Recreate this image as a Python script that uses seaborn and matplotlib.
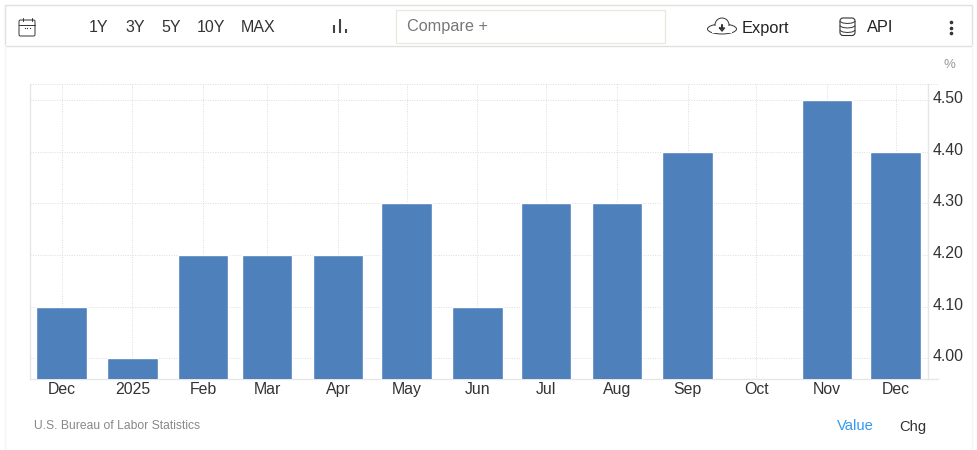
import numpy as np
import pandas as pd
import matplotlib
matplotlib.use("Agg")
import matplotlib.pyplot as plt
from matplotlib.patches import Rectangle, Ellipse, FancyBboxPatch
from matplotlib.transforms import ScaledTranslation
import seaborn as sns

months = ["2024-12-01", "2025-01-01", "2025-02-01", "2025-03-01", "2025-04-01", "2025-05-01", "2025-06-01",
          "2025-07-01", "2025-08-01", "2025-09-01", "2025-10-01", "2025-11-01", "2025-12-01"]
month_labels = ["Dec", "2025", "Feb", "Mar", "Apr", "May", "Jun", "Jul", "Aug", "Sep", "Oct", "Nov", "Dec"]
rate = [4.1, 4.0, 4.2, 4.2, 4.2, 4.3, 4.1, 4.3, 4.3, 4.4, np.nan, 4.5, 4.4]
y_ticks = [4.0, 4.1, 4.2, 4.3, 4.4, 4.5]

dates = pd.to_datetime(months)
df = pd.DataFrame({"day": (dates - dates[0]).days, "rate": rate})

sns.set_style("white")
plt.rcParams["font.family"] = ["Liberation Sans", "DejaVu Sans"]

W, H = 977, 450
fig = plt.figure(figsize=(W / 100, H / 100), dpi=100)
ax = fig.add_axes([30 / W, 1 - 379 / H, (928 - 30) / W, (379 - 83.5) / H])

sns.barplot(data=df, x="day", y="rate", native_scale=True, color="#4e80bc", saturation=1, width=0.79, ax=ax, zorder=3)

# px per day is 2.285, first bar centre sits at x=62
ax.set_xlim(-13.8, 379.2)
ax.set_ylim(3.9597, 4.5323)
ax.set_xlabel("")
ax.set_ylabel("")
ax.set_xticks(df["day"])
ax.set_xticklabels(month_labels, fontsize=11.4, color="#333333")
ax.yaxis.tick_right()
ax.set_yticks(y_ticks + [4.5323])
ax.set_yticklabels([f"{v:.2f}" for v in y_ticks] + [""], fontsize=11.4, color="#333333")
ax.tick_params(axis="x", length=0, pad=2)
ax.tick_params(axis="y", length=0, pad=3.5)
# the value labels sit a little above their gridlines
lift = ScaledTranslation(0, 3 / 100, fig.dpi_scale_trans)
for lab in ax.get_yticklabels():
    lab.set_transform(lab.get_transform() + lift)
ax.grid(True, color="#dcdcdc", linestyle=(0, (1, 1.5)), linewidth=0.7, zorder=0)
ax.set_axisbelow(True)
ax.spines["top"].set_visible(False)
for side in ["left", "right", "bottom"]:
    ax.spines[side].set_visible(True)
    ax.spines[side].set_color("#e6e6e6")
    ax.spines[side].set_linewidth(1)

# page furniture, drawn in pixel coords
ui = fig.add_axes([0, 0, 1, 1], zorder=5)
ui.set_xlim(0, W)
ui.set_ylim(H, 0)
ui.axis("off")
ui.patch.set_alpha(0)

ui.plot([5, 5], [45, H], color="#f5f5f5", lw=1)
ui.plot([972, 972], [45, H], color="#f5f5f5", lw=1)
ui.plot([928, 938], [379, 379], color="#e6e6e6", lw=1)
ui.plot([928, 938], [83.5, 83.5], color="#dcdcdc", lw=0.7, ls=(0, (1, 1.5)))
ui.add_patch(Rectangle((5, 4.5), 967, 41, fc="white", ec="#e0e0e0", lw=1))
ui.add_patch(Rectangle((396, 9.5), 269, 33, fc="white", ec="#e8e8dc", lw=0.9))

dark = "#333333"
# calendar icon
ui.add_patch(FancyBboxPatch((19, 20), 16, 16, boxstyle="round,pad=0,rounding_size=1.5", fc="none", ec=dark, lw=0.7))
ui.plot([19, 35], [24.5, 24.5], color=dark, lw=0.7)
ui.plot([22.5, 22.5], [18, 20.5], color=dark, lw=0.7)
ui.plot([31.5, 31.5], [18, 20.5], color=dark, lw=0.7)
ui.plot([24.5, 27, 29.5], [28, 28, 28], ls="none", marker="s", ms=0.8, mew=0, color=dark)

for label, x in zip(["1Y", "3Y", "5Y", "10Y", "MAX"], [99, 135, 171, 211, 258]):
    ui.text(x, 27.5, label, ha="center", va="center", fontsize=11.5, color=dark)

# bars icon
for x, top in zip([334, 340, 346], [25, 19, 29]):
    ui.plot([x, x], [top, 33], color="#444444", lw=1.5, solid_capstyle="butt")

ui.text(407, 26.5, "Compare +", ha="left", va="center", fontsize=11.7, color="#777777")

# cloud icon
ui.add_patch(Ellipse((722, 29), 29, 10, fc="white", ec=dark, lw=0.7))
ui.add_patch(Ellipse((722, 25), 14, 14, fc="white", ec=dark, lw=0.7))
ui.add_patch(Rectangle((712, 26), 20, 7, fc="white", ec="none", zorder=3))
ui.plot([719.5, 724.5, 722, 719.5], [28, 28, 31, 28], color=dark, lw=1, zorder=4)
ui.plot([722, 722], [25, 29], color=dark, lw=1.5, zorder=4)
ui.text(742, 28, "Export", ha="left", va="center", fontsize=11.8, color="#222222")

# database icon
ui.add_patch(FancyBboxPatch((840, 18), 15, 17.5, boxstyle="round,pad=0,rounding_size=3", fc="none", ec=dark, lw=0.8))
for y in [23, 27.5, 32]:
    ui.plot([840, 843, 847.5, 852, 855], [y - 1.5, y, y + 0.5, y, y - 1.5], color=dark, lw=0.7)
ui.text(867, 28, "API", ha="left", va="center", fontsize=11.8, color="#222222")

ui.plot([951, 951, 951], [21.5, 27.5, 33], ls="none", marker="o", ms=2.6, mew=0, color=dark)

ui.text(949, 64.5, "%", ha="center", va="center", fontsize=9.5, color="#999999")
ui.text(34.5, 426, "U.S. Bureau of Labor Statistics", ha="left", va="center", fontsize=8.7, color="#888888")
ui.text(855, 426.5, "Value", ha="center", va="center", fontsize=10.6, color="#3399ee")
ui.text(913, 426.5, "Chg", ha="center", va="center", fontsize=10.6, color="#333333")

fig.savefig("out.png", dpi=100, facecolor="white")
